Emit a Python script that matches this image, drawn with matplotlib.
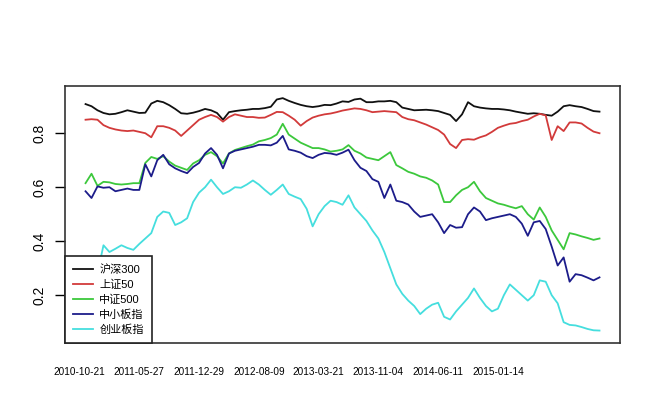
import numpy as np
import matplotlib.pyplot as plt

plt.rcParams['font.family'] = ['Liberation Sans', 'Noto Sans CJK SC', 'DejaVu Sans']

# ratio series, sampled at regular intervals
hs300 = [0.908, 0.900, 0.885, 0.875, 0.870, 0.872, 0.878, 0.885, 0.880, 0.875,
         0.876, 0.910, 0.920, 0.915, 0.904, 0.890, 0.874, 0.872, 0.876, 0.882,
         0.890, 0.885, 0.875, 0.850, 0.878, 0.882, 0.885, 0.887, 0.890, 0.890,
         0.893, 0.898, 0.925, 0.930, 0.920, 0.912, 0.905, 0.900, 0.897, 0.900,
         0.905, 0.904, 0.910, 0.918, 0.916, 0.925, 0.928, 0.915, 0.915, 0.918,
         0.918, 0.920, 0.915, 0.895, 0.890, 0.885, 0.886, 0.887, 0.885, 0.882,
         0.875, 0.868, 0.845, 0.870, 0.915, 0.900, 0.895, 0.892, 0.890, 0.890,
         0.888, 0.885, 0.880, 0.876, 0.872, 0.874, 0.872, 0.868, 0.865, 0.880,
         0.900, 0.904, 0.900, 0.897, 0.890, 0.882, 0.880]

sz50 = [0.850, 0.852, 0.850, 0.830, 0.820, 0.814, 0.810, 0.808, 0.810, 0.805,
        0.800, 0.785, 0.826, 0.826, 0.820, 0.810, 0.790, 0.810, 0.830, 0.850,
        0.860, 0.868, 0.860, 0.843, 0.860, 0.870, 0.865, 0.860, 0.860, 0.857,
        0.858, 0.868, 0.879, 0.878, 0.865, 0.850, 0.828, 0.845, 0.858, 0.865,
        0.870, 0.873, 0.878, 0.884, 0.888, 0.892, 0.890, 0.885, 0.878, 0.880,
        0.882, 0.880, 0.878, 0.860, 0.852, 0.848, 0.840, 0.832, 0.822, 0.812,
        0.795, 0.760, 0.745, 0.775, 0.778, 0.776, 0.785, 0.792, 0.805, 0.820,
        0.828, 0.835, 0.838, 0.845, 0.850, 0.862, 0.872, 0.866, 0.775, 0.826,
        0.808, 0.840, 0.840, 0.836, 0.820, 0.806, 0.800]

zz500 = [0.615, 0.650, 0.605, 0.620, 0.618, 0.612, 0.610, 0.612, 0.615, 0.615,
         0.690, 0.712, 0.705, 0.715, 0.695, 0.680, 0.672, 0.664, 0.688, 0.700,
         0.720, 0.730, 0.715, 0.688, 0.725, 0.738, 0.745, 0.752, 0.758, 0.770,
         0.775, 0.782, 0.795, 0.835, 0.795, 0.780, 0.765, 0.755, 0.745, 0.745,
         0.740, 0.732, 0.735, 0.740, 0.756, 0.735, 0.725, 0.710, 0.705, 0.700,
         0.715, 0.730, 0.682, 0.670, 0.657, 0.650, 0.640, 0.635, 0.625, 0.610,
         0.545, 0.545, 0.570, 0.590, 0.600, 0.620, 0.585, 0.560, 0.550, 0.540,
         0.535, 0.528, 0.522, 0.530, 0.500, 0.480, 0.525, 0.490, 0.440, 0.405,
         0.370, 0.430, 0.425, 0.418, 0.412, 0.405, 0.410]

zxb = [0.585, 0.560, 0.603, 0.598, 0.600, 0.585, 0.590, 0.595, 0.590, 0.590,
       0.685, 0.640, 0.700, 0.720, 0.685, 0.670, 0.660, 0.652, 0.675, 0.690,
       0.725, 0.745, 0.720, 0.670, 0.725, 0.735, 0.740, 0.745, 0.750, 0.757,
       0.757, 0.755, 0.765, 0.790, 0.740, 0.735, 0.728, 0.715, 0.708, 0.720,
       0.727, 0.725, 0.720, 0.728, 0.739, 0.700, 0.672, 0.660, 0.630, 0.620,
       0.560, 0.610, 0.550, 0.545, 0.536, 0.510, 0.490, 0.495, 0.500, 0.470,
       0.430, 0.460, 0.450, 0.452, 0.500, 0.525, 0.510, 0.478, 0.485, 0.490,
       0.495, 0.500, 0.490, 0.465, 0.420, 0.470, 0.475, 0.445, 0.380, 0.310,
       0.340, 0.250, 0.278, 0.274, 0.265, 0.255, 0.266]

cyb = [0.250, 0.260, 0.280, 0.385, 0.360, 0.372, 0.385, 0.375, 0.368, 0.390,
       0.410, 0.430, 0.490, 0.510, 0.505, 0.460, 0.470, 0.485, 0.545, 0.580,
       0.600, 0.628, 0.600, 0.575, 0.585, 0.600, 0.598, 0.610, 0.625, 0.610,
       0.590, 0.572, 0.590, 0.610, 0.575, 0.565, 0.556, 0.520, 0.455, 0.500,
       0.530, 0.550, 0.545, 0.535, 0.570, 0.525, 0.500, 0.475, 0.440, 0.410,
       0.360, 0.300, 0.240, 0.205, 0.180, 0.160, 0.130, 0.150, 0.165, 0.172,
       0.120, 0.110, 0.140, 0.165, 0.190, 0.225, 0.190, 0.160, 0.140, 0.150,
       0.200, 0.240, 0.220, 0.200, 0.180, 0.200, 0.255, 0.250, 0.200, 0.170,
       0.100, 0.090, 0.088, 0.082, 0.075, 0.070, 0.069]

names = ['沪深300', '上证50', '中证500', '中小板指', '创业板指']
colors = ['#111111', '#d23a3a', '#3cc83c', '#1c1c8a', '#45dede']
dates = ['2010-10-21', '2011-05-27', '2011-12-29', '2012-08-09',
         '2013-03-21', '2013-11-04', '2014-06-11', '2015-01-14']

series = [hs300, sz50, zz500, zxb, cyb]
x = np.arange(1, len(hs300) + 1)

fig = plt.figure(figsize=(6.72, 4.17), dpi=100)
ax = fig.add_axes([0.0967, 0.1775, 0.826, 0.6163])

for s, c, n in zip(series, colors, names):
    ax.plot(x, s, color=c, lw=1.3, label=n)

ax.set_xlim(-2.44, 90.44)
ax.set_ylim(0.023, 0.975)
ax.set_yticks([0.2, 0.4, 0.6, 0.8])
ax.set_yticklabels(['0.2', '0.4', '0.6', '0.8'], rotation=90, va='center', fontsize=10)
ax.set_xticks(np.arange(0, 10 * len(dates), 10))
ax.set_xticklabels(dates, fontsize=7.2)
ax.tick_params(axis='x', length=0, pad=17)
ax.tick_params(axis='y', length=7, width=1, pad=6)
for sp in ax.spines.values():
    sp.set_color('#333333')
    sp.set_linewidth(1.2)

leg = ax.legend(loc='lower left', borderaxespad=0, fontsize=8, fancybox=False,
                framealpha=1, edgecolor='#222222', handlelength=1.8,
                handletextpad=0.6, borderpad=0.7, labelspacing=0.42)
leg.get_frame().set_linewidth(1.2)

fig.savefig('out.png', dpi=100)
